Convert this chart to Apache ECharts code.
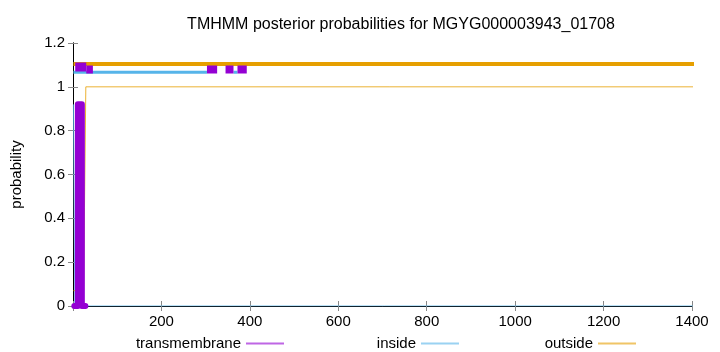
<!DOCTYPE html>
<html>
<head>
<meta charset="utf-8">
<script src="https://cdn.jsdelivr.net/npm/echarts@6/dist/echarts.min.js"></script>
<style>
	html, body { margin: 0; padding: 0; background: #fff; }
	#chart { width: 720px; height: 352px; }
</style>
</head>
<body>
<div id="chart"></div>
<script>
// posterior probabilities, [position, probability]
const outsideProb = [[1, 0.07], [24, 0.07], [26, 0.45], [29, 1], [1445, 1]];
const insideProb = [[1, 0.92], [3, 0.92], [4, 0], [1445, 0]];
const tmProb = [[3, 0], [11, 0], [11, 0.92], [20, 0.92], [20, 0], [28, 0]];

// topology segments drawn above the curves, [start, end]
const outsideSegs = [[1, 1445]];
const insideSegs = [[1, 303], [363, 372]];
const tmSegs = [[30, 45], [303, 326], [345, 363], [372, 393]];
const tmSegsHigh = [[5, 30]];

const C_TM = '#9400d3';
const C_IN = '#56b4e9';
const C_OUT = '#e69f00';
const FONT = 'Liberation Sans';
const FS = 15;

function segData(segs, y) {
	let out = [];
	segs.forEach((s, i) => {
		if (i > 0) out.push([s[0], '-']);
		out.push([s[0], y]);
		out.push([s[1], y]);
	});
	return out;
}

const chart = echarts.init(document.getElementById('chart'), null, {renderer: 'canvas'});

const axisCommon = {
	axisLine: {show: true, lineStyle: {color: '#000', width: 1}},
	axisTick: {show: true, inside: true, length: 5, lineStyle: {color: '#888'}},
	splitLine: {show: false},
};

chart.setOption({
	animation: false,
	textStyle: {fontFamily: FONT},
	title: {
		text: 'TMHMM posterior probabilities for MGYG000003943_01708',
		left: 396,
		top: 12,
		textAlign: 'center',
		textStyle: {fontFamily: FONT, fontSize: 16, fontWeight: 'normal', color: '#000'},
	},
	grid: {left: 73, right: 28, top: 43, bottom: 46},
	legend: [
		{data: [{name: 'transmembrane'}], right: 431},
		{data: [{name: 'inside'}], right: 256},
		{data: [{name: 'outside'}], right: 79},
	].map(l => Object.assign(l, {
		top: 331,
		align: 'right',
		icon: 'rect',
		itemWidth: 38,
		itemHeight: 2,
		itemStyle: {opacity: 0.6},
		textStyle: {fontFamily: FONT, fontSize: FS, color: '#000'},
		selectedMode: false,
	})),
	xAxis: [
		Object.assign({
			type: 'value', min: 0, max: 1400, interval: 200, position: 'bottom',
			axisLabel: {
				color: '#000', fontSize: FS, fontFamily: FONT, margin: 8,
				formatter: v => (v === 0 ? '' : String(v)),
			},
		}, axisCommon),
		Object.assign({
			type: 'value', min: 0, max: 1400, interval: 200, position: 'top',
			axisLabel: {show: false},
		}, axisCommon),
	],
	yAxis: [
		Object.assign({
			type: 'value', min: 0, max: 1.2, interval: 0.2, position: 'left',
			name: 'probability', nameLocation: 'middle', nameGap: 49, nameRotate: 90,
			nameTextStyle: {color: '#000', fontSize: FS, fontFamily: FONT},
			axisLabel: {
				color: '#000', fontSize: FS, fontFamily: FONT, margin: 8,
				formatter: v => (Math.abs(v) < 1e-9 ? '0' : Math.abs(v - 1) < 1e-9 ? '1' : v.toFixed(1)),
			},
		}, axisCommon),
		Object.assign({
			type: 'value', min: 0, max: 1.2, interval: 0.2, position: 'right',
			axisLabel: {show: false},
		}, axisCommon),
	],
	series: [
		{
			name: 'transmembrane', type: 'line', data: tmProb, showSymbol: false,
			lineStyle: {color: C_TM, width: 6, join: 'round', cap: 'round'},
			itemStyle: {color: C_TM}, z: 3,
		},
		{
			name: 'inside', type: 'line', data: insideProb, showSymbol: false,
			lineStyle: {color: C_IN, width: 1, opacity: 0.8},
			itemStyle: {color: C_IN}, z: 2,
		},
		{
			name: 'outside', type: 'line', data: outsideProb, showSymbol: false,
			lineStyle: {color: C_OUT, width: 1, opacity: 0.8},
			itemStyle: {color: C_OUT}, z: 2,
		},
		{
			name: 'insideSeg', type: 'line', data: segData(insideSegs, 1.067), showSymbol: false,
			lineStyle: {color: C_IN, width: 3, cap: 'butt'}, z: 4,
		},
		{
			name: 'tmSeg', type: 'line', data: segData(tmSegs, 1.079), showSymbol: false,
			lineStyle: {color: C_TM, width: 8, cap: 'butt'}, z: 5,
		},
		{
			name: 'tmSegHigh', type: 'line', data: segData(tmSegsHigh, 1.09), showSymbol: false,
			lineStyle: {color: C_TM, width: 9, cap: 'butt'}, z: 5,
		},
		{
			name: 'outsideSeg', type: 'line', data: segData(outsideSegs, 1.104), showSymbol: false,
			clip: false,
			lineStyle: {color: C_OUT, width: 4, cap: 'butt'}, z: 4,
		},
	],
});
</script>
</body>
</html>
